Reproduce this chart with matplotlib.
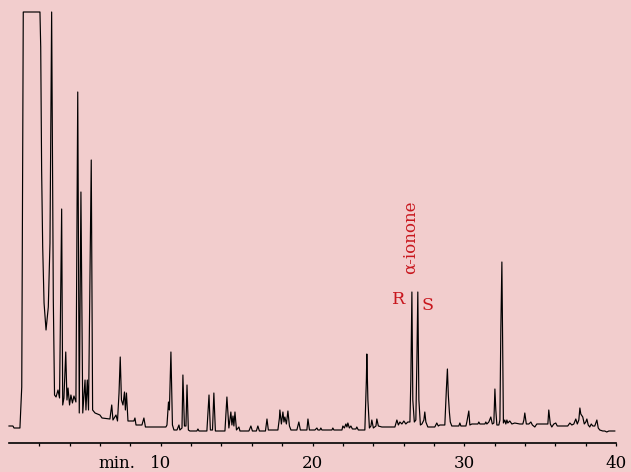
import matplotlib
matplotlib.use("Agg")
import matplotlib.pyplot as plt

# Chromatogram trace vertices: retention time (min), detector signal (a.u.)
time_min = [
    0.00, 0.26, 0.33, 0.72, 0.84, 0.94, 2.04, 2.09, 2.15, 2.22, 2.31, 2.44, 2.59, 2.70, 2.81,
    2.92, 3.00, 3.10, 3.23, 3.33, 3.47, 3.54, 3.62, 3.74, 3.82, 3.89, 3.99, 4.08, 4.18, 4.28,
    4.41, 4.53, 4.63, 4.74, 4.86, 5.01, 5.07, 5.16, 5.24, 5.42, 5.51, 5.67, 5.99, 6.13, 6.65,
    6.77, 6.85, 7.05, 7.15, 7.25, 7.33, 7.41, 7.51, 7.61, 7.67, 7.74, 7.84, 8.23, 8.30, 8.37,
    8.76, 8.89, 8.99, 10.34, 10.41, 10.51, 10.57, 10.67, 10.77, 10.87, 11.07, 11.20, 11.26, 11.40,
    11.46, 11.56, 11.66, 11.73, 11.82, 11.92, 12.38, 12.45, 12.52, 13.04, 13.18, 13.27, 13.41,
    13.50, 13.60, 14.23, 14.36, 14.49, 14.62, 14.69, 14.76, 14.82, 14.89, 14.99, 15.15, 15.22,
    15.81, 15.94, 16.04, 16.30, 16.40, 16.50, 16.90, 17.00, 17.09, 17.72, 17.82, 17.85, 17.95,
    18.05, 18.12, 18.18, 18.28, 18.38, 18.48, 18.58, 18.97, 19.10, 19.20, 19.63, 19.70, 19.80,
    20.16, 20.29, 20.36, 20.49, 20.55, 20.62, 21.28, 21.34, 21.41, 21.94, 22.00, 22.10, 22.20,
    22.27, 22.33, 22.43, 22.53, 22.63, 22.86, 22.92, 23.02, 23.45, 23.55, 23.58, 23.65, 23.75,
    23.85, 23.91, 24.01, 24.18, 24.24, 24.34, 24.57, 25.43, 25.56, 25.66, 25.76, 25.89, 26.02,
    26.15, 26.28, 26.42, 26.48, 26.55, 26.61, 26.71, 26.81, 26.88, 26.94, 27.01, 27.11, 27.21,
    27.34, 27.40, 27.47, 27.60, 28.06, 28.19, 28.29, 28.39, 28.72, 28.82, 28.89, 28.95, 29.02,
    29.08, 29.18, 29.64, 29.71, 29.78, 30.11, 30.17, 30.30, 30.37, 30.50, 30.90, 30.96, 31.03,
    31.36, 31.42, 31.49, 31.62, 31.75, 31.85, 31.95, 32.02, 32.08, 32.15, 32.28, 32.35, 32.41,
    32.48, 32.54, 32.58, 32.67, 32.74, 32.81, 32.87, 33.00, 33.14, 33.33, 33.66, 33.86, 33.93,
    33.99, 34.09, 34.26, 34.39, 34.49, 34.65, 34.78, 35.51, 35.57, 35.67, 35.77, 35.90, 36.03,
    36.13, 36.82, 36.96, 37.09, 37.22, 37.35, 37.45, 37.55, 37.62, 37.68, 37.81, 37.91, 38.01,
    38.08, 38.17, 38.27, 38.37, 38.47, 38.60, 38.74, 38.83, 38.93, 39.13, 39.26, 39.39, 39.53,
    39.72, 39.92,
]
signal = [
    17, 17, 15, 15, 56, 431, 431, 396, 273, 196, 140, 113, 136, 200, 431,
    143, 48, 46, 53, 45, 234, 38, 45, 91, 43, 55, 38, 48, 40, 47,
    41, 351, 30, 251, 30, 63, 33, 63, 33, 283, 33, 30, 28, 25, 24,
    38, 23, 28, 22, 50, 86, 43, 38, 51, 33, 50, 22, 22, 25, 18,
    18, 25, 16, 16, 18, 41, 33, 91, 18, 13, 13, 18, 13, 15,
    68, 17, 17, 58, 13, 12, 12, 14, 12, 12, 48, 13, 13,
    50, 12, 12, 46, 15, 31, 18, 27, 17, 31, 13, 16, 12,
    12, 17, 12, 12, 17, 12, 12, 24, 13, 13, 25, 33, 19,
    31, 21, 26, 19, 32, 17, 13, 13, 21, 13, 13, 24, 13,
    13, 15, 13, 13, 15, 13, 13, 15, 13, 13, 17, 15, 19,
    16, 20, 15, 17, 14, 14, 16, 13, 13, 63, 89, 43, 15,
    17, 23, 15, 17, 24, 17, 16, 16, 23, 18, 21, 19, 22,
    19, 21, 21, 63, 151, 43, 21, 23, 83, 151, 43, 18, 19,
    23, 31, 21, 16, 16, 20, 17, 18, 18, 53, 74, 48, 31,
    21, 17, 17, 20, 17, 17, 21, 32, 18, 19, 19, 21, 19,
    19, 21, 19, 21, 26, 19, 20, 54, 33, 18, 18, 23, 113,
    181, 83, 20, 23, 19, 23, 20, 22, 19, 20, 19, 19, 23,
    30, 19, 19, 21, 18, 16, 19, 19, 33, 19, 16, 19, 20,
    17, 17, 20, 18, 19, 24, 19, 23, 35, 29, 26, 19, 21,
    24, 18, 16, 19, 17, 17, 23, 15, 13, 12, 12, 11, 12,
    12, 12,
]

tick_positions = list(range(2, 41, 2))
tick_labels = [str(t) if t % 10 == 0 else "" for t in tick_positions]
axis_unit = "min."
compound_label = "α-ionone"
enantiomer_labels = ["R", "S"]

bg = "#f2cdcd"
red = "#c8161d"
serif = "DejaVu Serif"

fig = plt.figure(figsize=(6.31, 4.72), dpi=100, facecolor=bg)
ax = fig.add_axes([9 / 631, 29 / 472, 607 / 631, 443 / 472])
ax.set_facecolor(bg)
ax.plot(time_min, signal, color="black", lw=0.85, clip_on=False)
ax.set_xlim(0, 40)
ax.set_ylim(0, 443)

for s in ["top", "right", "left"]:
    ax.spines[s].set_visible(False)
ax.spines["bottom"].set_linewidth(1.2)
ax.set_yticks([])
ax.set_xticks(tick_positions)
ax.set_xticklabels(tick_labels, fontfamily=serif, fontsize=12)
tick_len, tick_pad = 2.2, 6.5
ax.tick_params(axis="x", direction="out", length=tick_len, width=0.9, pad=tick_pad)

# unit label left of "10", aligned with the tick labels
ax.annotate(axis_unit, xy=(7.1, 0), xycoords=("data", "axes fraction"),
            xytext=(0, -(tick_len + tick_pad)), textcoords="offset points",
            ha="center", va="top", fontfamily=serif, fontsize=12, annotation_clip=False)

# annotations
ax.text(26.43, 206, compound_label, rotation=90, ha="center", va="center",
        color=red, fontfamily=serif, fontsize=12)
ax.text(25.7, 143, enantiomer_labels[0], ha="center", va="center",
        color=red, fontfamily=serif, fontsize=12.5)
ax.text(27.6, 138, enantiomer_labels[1], ha="center", va="center",
        color=red, fontfamily=serif, fontsize=12.5)

fig.savefig("out.png", dpi=100, facecolor=bg)
